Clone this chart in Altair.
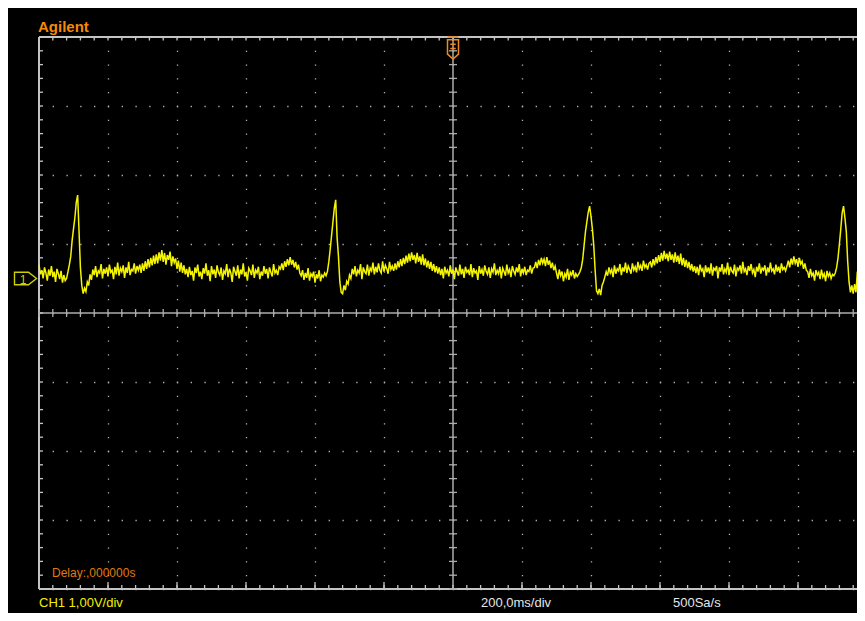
import altair as alt
import pandas as pd

# ---------------- data ----------------
# Channel 1 trace, in hundredths of a volt, one sample every 4 ms from -1200 ms
trace_cv = [
    # baseline before first beat
    70, 56, 62, 50, 66, 58, 47, 63, 54, 68, 52, 60, 45, 64, 57, 49, 61, 44, 55, 47,
    # QRS 1
    50, 60, 70, 82, 105, 122, 138, 160, 171, 119, 66, 40, 28, 36, 31, 45, 40, 56,
    # baseline
    48, 63, 55, 68, 52, 61, 58, 71, 50, 64, 57, 66, 53, 70, 59, 62, 49, 67, 56, 73,
    54, 65, 60, 69, 51, 66, 58, 74, 55, 63, 61, 72, 57, 68, 62,
    # T wave 1
    70, 58, 72, 61, 75, 64, 78, 66, 80, 69, 83, 71, 85, 72, 88, 76, 91, 74, 87, 70,
    84, 77, 89, 68, 82, 73, 79, 64, 76, 60, 73, 58, 69, 56,
    # baseline
    64, 52, 67, 55, 61, 47, 66, 58, 70, 53, 60, 49, 65, 57, 72, 54, 62, 46, 68, 56,
    63, 51, 69, 59, 55, 66, 48, 61, 57, 71, 52, 64, 58, 45, 67, 60, 54, 69, 50, 63,
    56, 72, 53, 59, 47, 65, 61, 55, 70, 51, 62, 58, 67, 49, 60, 54, 68, 57, 64, 50,
    66, 59, 53, 71, 58, 62, 55, 67,
    # P wave 1
    64, 72, 62, 75, 67, 78, 69, 81, 70, 77, 66, 74, 63, 70, 58,
    # baseline
    54, 62, 48, 58, 51, 65, 47, 57, 53, 60, 44, 56, 50, 62, 46, 55, 52, 58, 54,
    # QRS 2
    60, 74, 92, 112, 132, 152, 164, 110, 82, 45, 30, 28, 40, 33, 46, 42, 55,
    # baseline
    50, 64, 56, 68, 53, 62, 58, 71, 49, 66, 60, 57, 70, 54, 65, 61, 73, 56, 67, 59,
    72, 62, 58, 75, 60, 69, 64, 57, 74, 63, 68, 61,
    # T wave 2
    72, 63, 75, 66, 78, 68, 80, 71, 83, 73, 86, 75, 88, 77, 84, 72, 87, 74, 82, 70,
    85, 69, 79, 66, 76, 64, 74, 61, 71, 59, 68, 57, 66,
    # baseline
    55, 64, 50, 67, 58, 62, 53, 69, 57, 63, 49, 66, 60, 54, 70, 56, 64, 51, 67, 59,
    62, 55, 71, 52, 65, 58, 61, 48, 68, 57, 63, 54, 69, 60, 56, 66, 51, 64, 59, 72,
    55, 62, 57, 67, 50, 65, 60, 54, 70, 58, 63, 52, 68, 61, 56, 66, 59, 71, 53, 64,
    58, 67, 55, 62, 60, 69, 57, 65,
    # P wave 2
    66, 74, 65, 77, 69, 80, 72, 78, 68, 81, 70, 76, 65, 73, 62, 68,
    # baseline
    58, 49, 63, 54, 60, 46, 57, 52, 64, 48, 59, 55, 62, 50, 57, 53, 56,
    # QRS 3
    60, 66, 78, 98, 118, 132, 146, 155, 140, 122, 98, 62, 32, 28, 35, 26, 40, 45, 52,
    # baseline
    60, 54, 66, 58, 63, 52, 69, 57, 64, 61, 71, 55, 66, 60, 73, 58, 68, 63, 57, 72,
    62, 67, 59, 74, 64, 69, 61, 76, 66, 70, 63, 72,
    # T wave 3
    74, 66, 78, 69, 81, 72, 84, 74, 87, 76, 90, 78, 86, 75, 89, 77, 85, 73, 88, 74,
    83, 71, 86, 69, 80, 67, 77, 65, 74, 62, 71, 60, 68,
    # baseline
    58, 67, 55, 70, 61, 64, 52, 69, 59, 66, 57, 72, 54, 65, 62, 68, 50, 66, 60, 71,
    56, 64, 59, 73, 55, 67, 61, 58, 70, 53, 65, 62, 69, 57, 74, 60, 64, 55, 68, 61,
    71, 58, 63, 52, 67, 60, 72, 57, 65, 62, 69, 54, 66, 59, 73, 61, 64, 56, 70, 60,
    67, 58, 72, 63, 66, 61,
    # P wave 3
    68, 76, 66, 79, 70, 82, 72, 78, 67, 80, 71, 75, 64, 72, 62,
    # baseline
    60, 51, 64, 54, 58, 47, 62, 55, 59, 49, 63, 52, 57, 46, 61, 53, 58, 50, 56, 54,
    # QRS 4 (cut off at the right edge)
    58, 66, 80, 100, 122, 145, 155, 138, 118, 75, 45, 30, 40, 28, 42, 30, 60,
]
t_start_ms = -1200
t_step_ms = 4

trigger_ms = [0]          # trigger marker position (time)
ground_v = [0.5]          # channel 1 ground-level marker (volts)

# graticule: 200 ms/div horizontally, 1 V/div vertically
major_x = [-1200, -1000, -800, -600, -400, -200, 0, 200, 400, 600, 800, 1000]
major_y = [-4, -3, -2, -1, 0, 1, 2, 3, 4]
minor_x = [-1200 + 40 * k for k in range(61)]
minor_y = [round(-4 + 0.2 * k, 1) for k in range(41)]

# ---------------- tables ----------------
trace = pd.DataFrame({
    "t": [t_start_ms + t_step_ms * i for i in range(len(trace_cv))],
    "v": [c / 100 for c in trace_cv],
})
mx = pd.DataFrame({"t": minor_x})
my = pd.DataFrame({"v": minor_y})
majx = pd.DataFrame({"t": [m for m in major_x if m != 0]})

W, H = 818, 552
XDOM = [-1200, -1200 + W * 200 / 69]
FONT = "Liberation Sans"

xs = alt.Scale(domain=XDOM, nice=False, zero=False)
ys = alt.Scale(domain=[-4, 4], nice=False, zero=False)
x_axis = alt.Axis(values=major_x, grid=True, gridColor="#B4B4B4", gridWidth=1.3,
                  gridDash=[1.3, 12.5], gridDashOffset=0.65, labels=False,
                  ticks=False, domain=False, title=None)
y_axis = alt.Axis(values=major_y, grid=True, gridColor="#B4B4B4", gridWidth=1.3,
                  gridDash=[1.3, 12.5], gridDashOffset=0.65, labels=False,
                  ticks=False, domain=False, title=None)

X = lambda: alt.X("t:Q", scale=xs, axis=x_axis)
Y = lambda: alt.Y("v:Q", scale=ys, axis=y_axis)

BORDER = "#C4C4C4"
CENTER = "#ACACAC"

# borders (top, bottom, left)
border_h = alt.Chart(pd.DataFrame({"v": [-4, 4]})).mark_rule(
    color=BORDER, strokeWidth=2).encode(y=Y())
border_l = alt.Chart(pd.DataFrame({"t": [-1200]})).mark_rule(
    color=BORDER, strokeWidth=2).encode(x=X())
# center cross
center_h = alt.Chart(pd.DataFrame({"v": [0]})).mark_rule(
    color=CENTER, strokeWidth=1.5).encode(y=Y())
center_v = alt.Chart(pd.DataFrame({"t": [0]})).mark_rule(
    color=CENTER, strokeWidth=1.5).encode(x=X())

# ticks on borders and center lines
top_ticks = alt.Chart(mx).mark_rule(color=BORDER, strokeWidth=1.3).encode(
    x=X(), y=alt.value(0), y2=alt.value(3.5))
bot_ticks = alt.Chart(mx).mark_rule(color=BORDER, strokeWidth=1.3).encode(
    x=X(), y=alt.value(H - 4), y2=alt.value(H))
bot_major = alt.Chart(majx).mark_rule(color=BORDER, strokeWidth=1.3).encode(
    x=X(), y=alt.value(H - 7), y2=alt.value(H))
left_ticks = alt.Chart(my).mark_rule(color=BORDER, strokeWidth=1.3).encode(
    y=Y(), x=alt.value(0), x2=alt.value(4))
cx_ticks = alt.Chart(mx).mark_rule(color=CENTER, strokeWidth=1.3).encode(
    x=X(), y=alt.value(H / 2 - 4), y2=alt.value(H / 2 + 4))
cy_ticks = alt.Chart(my).mark_rule(color=CENTER, strokeWidth=1.3).encode(
    y=Y(), x=alt.value(414 - 4), x2=alt.value(414 + 4))

# the waveform
wave = alt.Chart(trace).mark_line(color="#F5F500", strokeWidth=1.5).encode(
    x=X(), y=Y())

# ground marker "1" at the left
gnd = alt.Chart(pd.DataFrame({"v": ground_v, "label": ["1"]}))
gnd_shape = gnd.mark_point(
    shape="M -1 -0.57 L 0.27 -0.57 L 1 0 L 0.27 0.57 L -1 0.57 Z",
    size=484, filled=False, color="#D0D000", strokeWidth=1.4, opacity=1,
).encode(y=Y(), x=alt.value(-13.5))
gnd_text = gnd.mark_text(font=FONT, fontSize=12, color="#D0D000",
                         align="center", baseline="middle", dy=1).encode(
    y=Y(), x=alt.value(-16), text="label:N")

# trigger marker at the top
trig = alt.Chart(pd.DataFrame({"t": trigger_ms}))
trig_shape = trig.mark_point(
    shape="M -0.5 -1 L 0.5 -1 M -0.5 -0.75 L 0.5 -0.75 L 0.5 0.55 L 0 1 L -0.5 0.55 Z "
          "M -0.25 -0.35 L 0.25 -0.35 M -0.25 0.05 L 0.25 0.05",
    size=484, filled=False, color="#F08A1A", strokeWidth=1.5, opacity=1,
).encode(x=X(), y=alt.value(11))


def label(text, x, y, color, size, weight="normal"):
    return alt.Chart(pd.DataFrame({"label": [text]})).mark_text(
        align="left", baseline="alphabetic", font=FONT, fontSize=size,
        fontWeight=weight, color=color,
    ).encode(x=alt.value(x), y=alt.value(y), text="label:N")


texts = [
    label("Agilent", -1, -5, "#F58A07", 15, "bold"),
    label("Delay:,000000s", 13, 540, "#E07A10", 12),
    label("CH1 1,00V/div", 0, 570, "#F0F000", 13),
    label("200,0ms/div", 442, 570, "#E6E6E6", 13),
    label("500Sa/s", 634, 570, "#E6E6E6", 13),
]

chart = alt.layer(
    border_h, border_l, center_h, center_v,
    top_ticks, bot_ticks, bot_major, left_ticks, cx_ticks, cy_ticks,
    wave, gnd_shape, gnd_text, trig_shape, *texts,
).properties(
    width=W, height=H,
    background="#000000",
    padding={"left": 31, "top": 29, "right": 0, "bottom": 24},
    autosize=alt.AutoSizeParams(type="none"),
).configure_view(stroke=None)

chart.save("out.html", embed_options={"renderer": "svg", "actions": False})
